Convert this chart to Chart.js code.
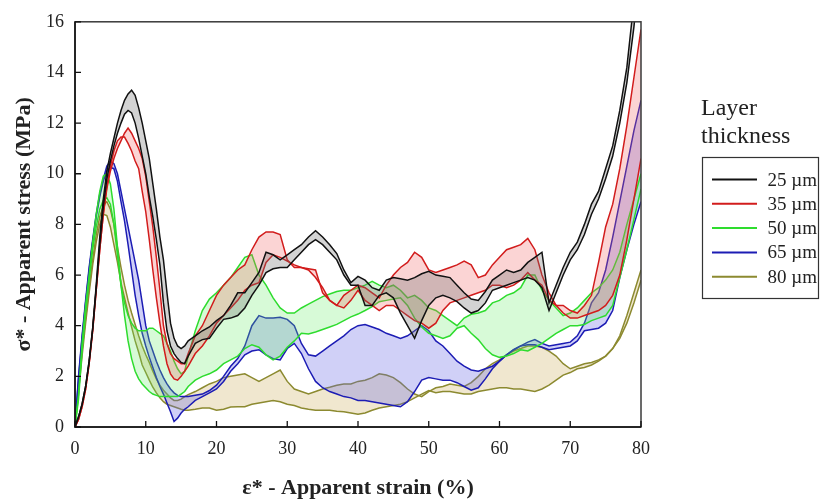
<!DOCTYPE html>
<html>
<head>
<meta charset="utf-8">
<script src="https://cdn.jsdelivr.net/npm/chart.js@4.4.1/dist/chart.umd.min.js"></script>
<style>
  html, body { margin: 0; padding: 0; background: #fff; }
  canvas { display: block; }
</style>
</head>
<body>
<canvas id="c" width="821" height="503"></canvas>
<script>
// Apparent strain (%) sampling grid
const strain = [0,0.5,1,1.5,2,2.5,3,3.5,4,4.5,5,5.5,6,6.5,7,7.5,8,8.5,9,9.5,10,10.5,11,11.5,12,12.5,13,13.5,14,14.5,15,15.5,16,
  17,18,19,20,21,22,23,24,25,26,27,28,29,30,31,32,33,34,35,36,37,38,39,40,41,42,43,44,45,46,47,48,49,50,
  51,52,53,54,55,56,57,58,59,60,61,62,63,64,65,66,67,68,69,70,71,72,73,74,75,76,77,78,79,80];

// Apparent stress (MPa): upper / lower envelope for each layer thickness
const stress25Upper = [0,0.4,0.9,1.6,2.6,3.9,5.6,7.5,9.0,10.1,10.8,11.4,12.0,12.5,12.9,13.15,13.3,13.1,12.6,12.0,11.3,10.6,9.6,8.6,7.5,6.6,5.3,4.1,3.5,3.2,3.1,3.2,3.4,
  3.6,3.8,3.95,4.2,4.4,4.8,5.3,5.3,5.7,6.1,6.9,6.8,6.6,6.8,7.0,7.2,7.5,7.75,7.5,7.2,6.85,6.2,5.7,5.95,5.8,5.5,5.4,5.8,5.9,5.85,5.8,5.9,6.05,6.15,
  6.0,5.95,5.9,5.6,5.3,5.05,5.0,5.35,5.8,6.0,6.2,6.1,6.2,6.5,6.7,6.9,4.9,5.6,6.3,6.9,7.3,8.0,8.8,9.3,10.2,11.1,12.5,14.2,16.8,19.5];
const stress25Lower = [0,0.4,0.9,1.6,2.6,3.9,5.5,7.2,8.7,9.8,10.5,11.1,11.6,12.0,12.35,12.5,12.4,12.0,11.4,10.7,10.0,9.1,8.3,7.4,6.4,4.9,3.8,3.2,2.9,2.7,2.55,2.5,2.8,
  3.3,3.45,3.5,3.9,4.25,4.3,4.4,4.7,5.2,5.6,6.1,6.25,6.3,6.3,6.6,6.9,7.2,7.4,7.2,6.9,6.6,6.0,5.6,5.6,4.8,4.8,5.2,5.3,5.1,4.5,4.0,3.5,4.2,4.8,
  5.1,5.2,5.1,4.95,4.7,4.5,4.6,4.9,5.4,5.5,5.6,5.7,5.8,5.9,5.8,5.5,4.6,5.3,6.0,6.6,7.0,7.6,8.4,9.0,9.8,10.7,12.0,13.6,15.8,18.5];

const stress35Upper = [0,0.3,0.8,1.5,2.5,3.8,5.4,7.0,8.4,9.4,10.1,10.6,11.0,11.3,11.6,11.8,11.6,11.3,11.0,10.6,9.9,8.9,7.9,6.7,5.4,4.0,3.3,2.9,2.7,2.6,2.5,2.5,2.9,
  3.6,4.0,4.6,5.2,5.6,5.9,6.2,6.4,7.0,7.5,7.7,7.7,7.6,6.6,6.3,6.3,6.25,6.2,5.3,5.0,4.8,5.2,5.4,5.6,5.5,5.3,5.1,5.6,6.0,6.3,6.5,6.9,6.7,6.2,
  6.1,6.2,6.3,6.4,6.55,6.4,5.9,6.0,6.4,6.7,7.0,7.1,7.2,7.45,7.0,6.0,5.3,4.8,4.8,4.6,4.5,4.8,5.2,6.5,7.9,8.8,10.2,11.9,13.8,15.7];
const stress35Lower = [0,0.3,0.8,1.5,2.5,3.8,5.4,7.0,8.4,9.5,10.3,10.9,11.3,11.45,11.45,11.2,10.9,10.5,10.2,9.3,8.5,7.4,6.2,5.1,4.1,3.2,2.5,2.1,1.9,1.85,2.0,2.2,2.4,
  2.9,3.2,3.6,4.1,4.4,4.7,5.0,5.4,5.6,5.7,6.5,6.8,6.7,6.55,6.4,6.3,6.2,5.9,5.5,5.0,4.8,4.7,5.0,5.4,5.0,4.8,4.6,4.8,4.8,4.6,4.4,4.2,4.1,3.9,
  4.1,4.6,4.9,5.0,5.1,5.2,5.3,5.4,5.6,5.6,5.5,5.6,5.8,6.1,5.8,5.6,5.0,4.8,4.5,4.3,4.3,4.4,4.5,4.6,4.8,5.2,6.0,7.4,9.0,10.6];

const stress50Upper = [0,1.3,3.3,4.8,6.0,7.3,8.4,9.3,9.9,10.0,9.6,8.6,7.1,5.6,4.9,4.4,4.1,3.9,3.8,3.8,3.8,3.9,3.9,3.8,3.7,3.6,3.3,3.0,2.6,2.3,2.1,2.2,2.8,
  3.8,4.6,5.05,5.3,5.6,5.9,6.3,6.7,6.8,6.0,5.6,5.1,4.7,4.5,4.5,4.7,4.85,5.0,5.15,5.25,5.35,5.4,5.4,5.5,5.6,5.75,5.6,5.5,5.6,5.4,5.1,5.2,5.0,4.7,
  4.6,4.4,4.2,4.0,4.3,4.45,4.5,4.6,4.9,5.0,5.2,5.3,5.5,6.0,6.0,5.4,5.0,4.7,4.4,4.5,4.7,5.0,5.3,5.5,5.8,6.2,6.9,8.0,9.0,10.0];
const stress50Lower = [0,1.1,3.0,4.5,5.8,7.0,7.9,8.6,8.95,9.05,8.8,8.0,6.8,5.6,4.4,3.4,2.7,2.2,1.9,1.7,1.55,1.4,1.3,1.25,1.2,1.2,1.2,1.2,1.2,1.2,1.3,1.4,1.6,
  1.85,2.0,2.1,2.25,2.5,2.65,2.8,3.1,3.25,3.15,2.85,2.65,2.8,3.15,3.4,3.7,3.67,3.75,3.85,3.95,4.05,4.2,4.35,4.46,4.6,4.75,4.95,5.0,5.05,5.1,4.8,4.3,3.95,3.7,
  3.6,3.5,3.6,3.9,4.0,3.7,3.45,3.1,2.85,2.75,2.8,2.9,3.05,3.0,3.15,3.3,3.5,3.7,3.85,4.0,4.0,4.05,4.2,4.3,4.4,4.8,5.9,7.0,8.2,9.4];

const stress65Upper = [0,2.0,3.6,5.0,6.3,7.4,8.4,9.2,9.8,10.3,10.5,10.4,10.0,9.3,8.6,7.9,7.2,6.5,5.8,4.9,4.0,3.4,3.0,2.6,2.25,1.95,1.7,1.5,1.35,1.25,1.2,1.2,1.2,
  1.25,1.3,1.44,1.65,2.0,2.4,2.7,3.2,4.0,4.4,4.3,4.3,4.33,4.25,4.0,3.3,2.85,2.8,3.0,3.2,3.4,3.6,3.85,4.0,4.05,3.95,3.85,3.7,3.6,3.5,3.6,3.8,4.0,3.8,
  3.4,3.2,2.9,2.6,2.4,2.25,2.2,2.3,2.4,2.6,2.85,3.05,3.2,3.35,3.45,3.3,3.2,3.25,3.3,3.35,3.6,4.1,4.9,5.3,6.2,7.5,8.9,10.3,11.7,12.9];
const stress65Lower = [0,1.9,3.5,4.9,6.2,7.3,8.3,9.1,9.7,10.1,10.25,10.2,9.7,8.9,8.14,7.2,6.2,5.2,4.4,3.7,3.2,2.75,2.35,1.95,1.6,1.3,0.95,0.6,0.22,0.35,0.55,0.7,0.8,
  1.05,1.2,1.35,1.5,1.8,2.2,2.5,2.85,3.0,3.05,2.85,2.7,2.65,3.1,3.3,2.9,2.3,1.8,1.55,1.4,1.3,1.2,1.15,1.05,1.05,1.0,0.95,0.9,0.85,0.8,1.0,1.4,1.85,1.95,
  1.9,1.85,1.85,1.75,1.6,1.45,1.55,1.9,2.3,2.6,2.85,3.05,3.2,3.25,3.25,3.15,3.05,3.1,3.15,3.2,3.4,3.8,3.85,3.9,4.1,4.6,5.9,7.0,8.0,8.9];

const stress80Upper = [0,1.5,3.0,4.3,5.5,6.6,7.6,8.3,8.75,8.9,8.6,8.0,7.1,6.3,5.6,5.0,4.5,4.05,3.6,3.2,2.85,2.55,2.2,1.9,1.65,1.45,1.3,1.15,1.05,1.05,1.1,1.2,1.28,
  1.4,1.55,1.7,1.8,1.95,2.0,2.05,2.1,1.95,1.8,1.95,2.1,2.25,1.8,1.5,1.4,1.3,1.4,1.5,1.57,1.65,1.7,1.7,1.8,1.85,1.95,2.1,2.05,1.95,1.75,1.5,1.3,1.2,1.4,
  1.55,1.6,1.7,1.65,1.6,1.75,2.0,2.3,2.5,2.65,2.85,3.0,3.1,3.2,3.2,3.15,3.0,2.8,2.5,2.3,2.4,2.5,2.55,2.65,2.8,3.1,3.6,4.4,5.3,6.2];
const stress80Lower = [0,1.4,2.8,4.1,5.3,6.4,7.3,8.0,8.4,8.35,7.9,7.2,6.5,5.7,5.1,4.5,3.95,3.4,2.95,2.45,2.15,1.85,1.57,1.35,1.15,1.0,0.9,0.85,0.8,0.75,0.7,0.66,0.66,
  0.7,0.75,0.75,0.66,0.7,0.79,0.8,0.8,0.9,0.95,1.0,1.05,1.0,0.9,0.85,0.75,0.7,0.66,0.66,0.66,0.62,0.6,0.55,0.5,0.55,0.66,0.75,0.8,0.85,0.9,1.0,1.15,1.3,1.44,
  1.35,1.4,1.4,1.35,1.3,1.3,1.4,1.45,1.5,1.55,1.55,1.5,1.5,1.45,1.4,1.5,1.65,1.85,2.05,2.15,2.3,2.35,2.45,2.6,2.8,3.1,3.5,4.1,4.9,5.8];

const thicknessLabels = ['25 \u00b5m', '35 \u00b5m', '50 \u00b5m', '65 \u00b5m', '80 \u00b5m'];
const xTicks = [0, 10, 20, 30, 40, 50, 60, 70, 80];
const yTicks = [0, 2, 4, 6, 8, 10, 12, 14, 16];

const lineColors = ['#111111', '#d21c1c', '#2edc2e', '#1c1cb4', '#8c8a30'];
const bandColors = ['rgba(110,110,110,0.30)', 'rgba(240,100,100,0.28)', 'rgba(100,235,100,0.26)',
                    'rgba(100,100,230,0.30)', 'rgba(205,175,95,0.30)'];

const envelopes = [
  [stress25Upper, stress25Lower],
  [stress35Upper, stress35Lower],
  [stress50Upper, stress50Lower],
  [stress65Upper, stress65Lower],
  [stress80Upper, stress80Lower]
];

const toPoints = arr => strain.map((x, i) => ({ x: x, y: arr[i] }));

const datasets = [];
envelopes.forEach((pair, k) => {
  datasets.push({
    label: thicknessLabels[k] + ' upper',
    data: toPoints(pair[0]),
    borderColor: lineColors[k],
    borderWidth: 1.5,
    fill: false
  });
  datasets.push({
    label: thicknessLabels[k] + ' lower',
    data: toPoints(pair[1]),
    borderColor: lineColors[k],
    borderWidth: 1.5,
    backgroundColor: bandColors[k],
    fill: '-1'
  });
});

const serif = '"Liberation Serif", "Times New Roman", serif';

// Plot frame, inward tick marks and the thickness key
const framePlugin = {
  id: 'framePlugin',
  afterDraw(chart) {
    const { ctx, chartArea: a, scales } = chart;
    ctx.save();
    ctx.strokeStyle = '#3a3a3a';
    ctx.lineWidth = 1.5;
    ctx.strokeRect(a.left, a.top, a.right - a.left, a.bottom - a.top);
    ctx.strokeStyle = '#111';
    ctx.beginPath();
    ctx.moveTo(a.left, a.top); ctx.lineTo(a.left, a.bottom); ctx.lineTo(a.right, a.bottom);
    ctx.stroke();
    ctx.lineWidth = 1.3;
    ctx.beginPath();
    xTicks.forEach(v => {
      const px = scales.x.getPixelForValue(v);
      ctx.moveTo(px, a.bottom); ctx.lineTo(px, a.bottom - 6);
    });
    yTicks.forEach(v => {
      const py = scales.y.getPixelForValue(v);
      ctx.moveTo(a.left, py); ctx.lineTo(a.left + 6, py);
    });
    ctx.stroke();

    // key
    ctx.fillStyle = '#222';
    ctx.textAlign = 'left';
    ctx.textBaseline = 'alphabetic';
    ctx.font = '24px ' + serif;
    ctx.fillText('Layer', 701, 115);
    ctx.fillText('thickness', 701, 143);
    ctx.strokeStyle = '#333';
    ctx.lineWidth = 1.2;
    ctx.strokeRect(702.5, 157.5, 116, 141);
    ctx.font = '19px ' + serif;
    thicknessLabels.forEach((t, k) => {
      const y = 179.5 + k * 24.3;
      ctx.strokeStyle = lineColors[k];
      ctx.lineWidth = 2;
      ctx.beginPath();
      ctx.moveTo(712, y); ctx.lineTo(757, y);
      ctx.stroke();
      ctx.fillStyle = '#222';
      ctx.fillText(t, 767.5, y + 6);
    });
    ctx.restore();
  }
};

new Chart(document.getElementById('c'), {
  type: 'line',
  data: { datasets: datasets },
  plugins: [framePlugin],
  options: {
    responsive: false,
    animation: false,
    events: [],
    layout: { padding: { top: 19, right: 180, left: 0, bottom: 0 } },
    elements: { point: { radius: 0 }, line: { tension: 0 } },
    plugins: {
      legend: { display: false },
      tooltip: { enabled: false },
      filler: { propagate: false }
    },
    scales: {
      x: {
        type: 'linear',
        min: 0, max: 80,
        afterBuildTicks: s => { s.ticks = xTicks.map(v => ({ value: v })); },
        ticks: { font: { family: serif, size: 18 }, color: '#222', padding: 11, maxRotation: 0 },
        grid: { display: false, drawTicks: false },
        border: { display: false },
        title: {
          display: true,
          text: '\u03b5* - Apparent strain (%)',
          font: { family: serif, size: 22, weight: 'bold' },
          color: '#222',
          padding: { top: 0, bottom: 1 }
        },
        afterFit: s => { s.height = 76; }
      },
      y: {
        type: 'linear',
        min: 0, max: 16,
        afterBuildTicks: s => { s.ticks = yTicks.map(v => ({ value: v })); },
        ticks: { font: { family: serif, size: 18 }, color: '#222', padding: 11 },
        grid: { display: false, drawTicks: false },
        border: { display: false },
        title: {
          display: true,
          text: '\u03c3* - Apparent stress (MPa)',
          font: { family: serif, size: 22, weight: 'bold' },
          color: '#222',
          padding: { top: 11, bottom: 0 }
        },
        afterFit: s => { s.width = 75; }
      }
    }
  }
});
</script>
</body>
</html>
